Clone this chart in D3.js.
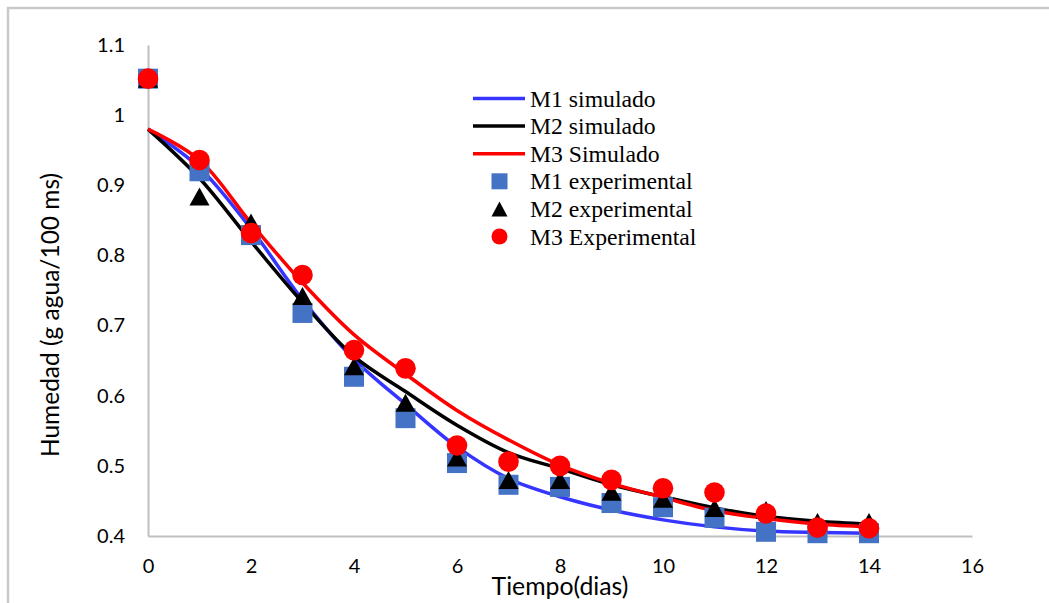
<!DOCTYPE html>
<html>
<head>
<meta charset="utf-8">
<script src="https://cdn.jsdelivr.net/npm/d3@7"></script>
<style>
  html, body { margin: 0; padding: 0; background: #fff; }
  svg { display: block; }
</style>
</head>
<body>
<script>
// Drying time in days
const days = [0, 1, 2, 3, 4, 5, 6, 7, 8, 9, 10, 11, 12, 13, 14];

// Simulated moisture curves (g agua/100 ms)
const m1Sim = [0.980, 0.925, 0.838, 0.737, 0.652, 0.588, 0.527, 0.482, 0.456, 0.437, 0.423, 0.413, 0.407, 0.405, 0.404];
const m2Sim = [0.980, 0.910, 0.820, 0.733, 0.656, 0.606, 0.558, 0.519, 0.496, 0.473, 0.456, 0.440, 0.428, 0.421, 0.417];
const m3Sim = [0.980, 0.936, 0.846, 0.761, 0.687, 0.631, 0.579, 0.537, 0.501, 0.475, 0.455, 0.436, 0.425, 0.417, 0.413];

// Experimental measurements
const m1Exp = [1.052, 0.920, 0.829, 0.718, 0.627, 0.568, 0.504, 0.473, 0.470, 0.447, 0.441, 0.426, 0.406, 0.404, 0.404];
const m2Exp = [1.052, 0.884, 0.847, 0.742, 0.642, 0.590, 0.512, 0.480, 0.480, 0.463, 0.453, 0.440, 0.437, 0.420, 0.420];
const m3Exp = [1.052, 0.936, 0.832, 0.772, 0.665, 0.639, 0.529, 0.506, 0.500, 0.480, 0.468, 0.462, 0.432, 0.412, 0.411];

// Axis ticks
const xTicks = [0, 2, 4, 6, 8, 10, 12, 14, 16];
const yTicks = [0.4, 0.5, 0.6, 0.7, 0.8, 0.9, 1.0, 1.1];
const yTickLabels = ["0.4", "0.5", "0.6", "0.7", "0.8", "0.9", "1", "1.1"];

const legendLabels = ["M1 simulado", "M2 simulado", "M3 Simulado", "M1 experimental", "M2 experimental", "M3 Experimental"];

const W = 1049, H = 603;
const svg = d3.select("body").append("svg").attr("width", W).attr("height", H);
svg.append("rect").attr("width", W).attr("height", H).attr("fill", "#fff");

// Outer frame (top and left edges)
svg.append("path")
  .attr("d", `M8,${H} L8,8 L${W},8`)
  .attr("fill", "none").attr("stroke", "#c9c9c9").attr("stroke-width", 2.5);

const x = d3.scaleLinear().domain([0, 16]).range([148, 972]);
const y = d3.scaleLinear().domain([0.4, 1.1]).range([536, 45]);

const tickFont = "Lato, 'Open Sans', sans-serif";

// X axis
const gx = svg.append("g").attr("transform", `translate(0,${y(0.4)})`)
  .call(d3.axisBottom(x).tickValues(xTicks).tickSize(0).tickSizeOuter(0).tickPadding(23).tickFormat(d3.format("d")));
gx.select(".domain").attr("stroke", "#bfbfbf").attr("stroke-width", 2);
gx.selectAll("text").attr("font-family", tickFont).attr("font-size", 20).attr("fill", "#000");

// Y axis
const gy = svg.append("g").attr("transform", `translate(${x(0)},0)`)
  .call(d3.axisLeft(y).tickValues(yTicks).tickSize(0).tickSizeOuter(0).tickPadding(23)
    .tickFormat((d, i) => yTickLabels[i]));
gy.select(".domain").attr("stroke", "#bfbfbf").attr("stroke-width", 2);
gy.selectAll("text").attr("font-family", tickFont).attr("font-size", 20).attr("fill", "#000");

// Axis titles
svg.append("text")
  .attr("x", 560).attr("y", 595)
  .attr("text-anchor", "middle")
  .attr("font-family", tickFont).attr("font-size", 24.8).attr("fill", "#000")
  .text("Tiempo(dias)");

svg.append("text")
  .attr("transform", "translate(59,315) rotate(-90)")
  .attr("text-anchor", "middle")
  .attr("font-family", tickFont).attr("font-size", 24.5).attr("fill", "#000")
  .text("Humedad (g agua/100 ms)");

// Simulated curves
const simSeries = [
  { values: m1Sim, color: "#3535ff" },
  { values: m2Sim, color: "#000000" },
  { values: m3Sim, color: "#ff0000" }
];
const line = d3.line()
  .x((d, i) => x(days[i]))
  .y(d => y(d))
  .curve(d3.curveCatmullRom.alpha(0.5));

simSeries.forEach(s => {
  svg.append("path")
    .attr("d", line(s.values))
    .attr("fill", "none")
    .attr("stroke", s.color)
    .attr("stroke-width", 3.5)
    .attr("stroke-linejoin", "round");
});

// Marker shapes
function trianglePath(w, h) {
  return `M0,${-h / 2} L${w / 2},${h / 2} L${-w / 2},${h / 2} Z`;
}

// M1 experimental – squares
svg.append("g").selectAll("rect").data(m1Exp).join("rect")
  .attr("x", (d, i) => x(days[i]) - 10)
  .attr("y", d => y(d) - 10)
  .attr("width", 20).attr("height", 20)
  .attr("fill", "#4472c4");

// M2 experimental – triangles
svg.append("g").selectAll("path").data(m2Exp).join("path")
  .attr("transform", (d, i) => `translate(${x(days[i])},${y(d)})`)
  .attr("d", trianglePath(20, 18))
  .attr("fill", "#000");

// M3 experimental – circles
svg.append("g").selectAll("circle").data(m3Exp).join("circle")
  .attr("cx", (d, i) => x(days[i]))
  .attr("cy", d => y(d))
  .attr("r", 10.3)
  .attr("fill", "#ff0000");

// Legend
const legend = svg.append("g");
const rowY = i => 98.5 + i * 27.6;
const lx0 = 473, lx1 = 525, mx = 499.5, tx = 530;

[0, 1, 2].forEach(i => {
  legend.append("line")
    .attr("x1", lx0).attr("x2", lx1)
    .attr("y1", rowY(i)).attr("y2", rowY(i))
    .attr("stroke", simSeries[i].color).attr("stroke-width", 3.5);
});
legend.append("rect")
  .attr("x", mx - 8).attr("y", rowY(3) - 8).attr("width", 16).attr("height", 16)
  .attr("fill", "#4472c4");
legend.append("path")
  .attr("transform", `translate(${mx},${rowY(4)})`)
  .attr("d", trianglePath(16, 15))
  .attr("fill", "#000");
legend.append("circle")
  .attr("cx", mx).attr("cy", rowY(5)).attr("r", 8)
  .attr("fill", "#ff0000");

legendLabels.forEach((t, i) => {
  legend.append("text")
    .attr("x", tx).attr("y", rowY(i) + 8)
    .attr("font-family", "'Liberation Serif', 'Times New Roman', serif")
    .attr("font-size", 23.7)
    .attr("fill", "#000")
    .text(t);
});
</script>
</body>
</html>
